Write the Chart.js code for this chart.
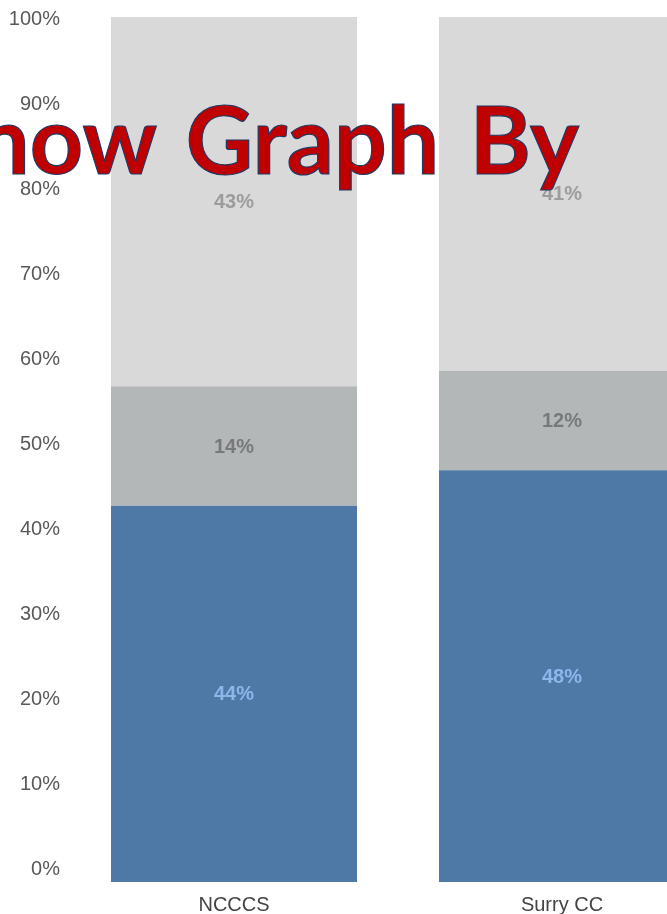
<!DOCTYPE html>
<html>
<head>
<meta charset="utf-8">
<script src="https://cdn.jsdelivr.net/npm/chart.js@4"></script>
<style>
  html, body { margin: 0; padding: 0; background: #fff; overflow: hidden; }
  #wrap { position: relative; width: 667px; height: 914px; overflow: hidden; }
  #chart { position: absolute; left: 0; top: 0; }
  #title {
    position: absolute; left: -73px; top: 92px;
    font-family: Lato, sans-serif; font-weight: bold; font-size: 93px; line-height: 1;
    word-spacing: 8px;
    color: #c00000; -webkit-text-stroke: 1.2px #203864; white-space: nowrap;
  }
</style>
</head>
<body>
<div id="wrap">
  <canvas id="chart" width="740" height="914" style="width:740px;height:914px"></canvas>
  <div id="title">Show Graph By</div>
</div>
<script>
const categories = ['NCCCS', 'Surry CC'];
const blueValues = [43.5, 47.6];
const midValues = [13.8, 11.5];
const lightValues = [42.7, 40.9];
const tickValues = [0, 10, 20, 30, 40, 50, 60, 70, 80, 90, 100];

// draws the rounded percent in the middle of each segment
const segmentLabels = {
  id: 'segmentLabels',
  afterDatasetsDraw(chart) {
    const ctx = chart.ctx;
    ctx.save();
    ctx.font = 'bold 20px "Liberation Sans", Arial, sans-serif';
    ctx.textAlign = 'center';
    ctx.textBaseline = 'middle';
    chart.data.datasets.forEach((ds, i) => {
      const meta = chart.getDatasetMeta(i);
      meta.data.forEach((bar, j) => {
        ctx.fillStyle = ds.labelColor;
        ctx.fillText(Math.round(ds.data[j]) + '%', bar.x, (bar.y + bar.base) / 2 + 1);
      });
    });
    ctx.restore();
  }
};

new Chart(document.getElementById('chart').getContext('2d'), {
  type: 'bar',
  data: {
    labels: categories,
    datasets: [
      { data: blueValues, backgroundColor: '#4e79a7', labelColor: '#8db6ea' },
      { data: midValues, backgroundColor: '#b4b7b8', labelColor: '#77797a' },
      { data: lightValues, backgroundColor: '#d9d9d9', labelColor: '#9c9c9c' }
    ]
  },
  options: {
    responsive: false,
    animation: false,
    layout: { padding: { top: 17, right: 14, left: 0, bottom: 0 } },
    datasets: { bar: { barPercentage: 0.75, categoryPercentage: 1 } },
    plugins: { legend: { display: false }, tooltip: { enabled: false } },
    scales: {
      x: {
        stacked: true,
        grid: { display: false, drawTicks: false },
        border: { display: false },
        ticks: { color: '#444', padding: 11, font: { size: 20, family: '"Liberation Sans", Arial, sans-serif' } },
        afterFit(scale) { scale.height = 32; }
      },
      y: {
        stacked: true, min: 0, max: 100, display: false
      },
      // label axis is a touch tighter than the bars, like the original
      yl: {
        position: 'left', min: -1.415, max: 100.235,
        grid: { display: false, drawTicks: false },
        border: { display: false },
        afterBuildTicks(scale) { scale.ticks = tickValues.map(v => ({ value: v })); },
        ticks: {
          color: '#595959', padding: 10,
          font: { size: 20, family: '"Liberation Sans", Arial, sans-serif' },
          callback: v => v + '%'
        },
        afterFit(scale) {
          scale.width = 70;
          scale.paddingTop = 0;
          scale.paddingBottom = 0;
        }
      }
    }
  },
  plugins: [segmentLabels]
});
</script>
</body>
</html>
